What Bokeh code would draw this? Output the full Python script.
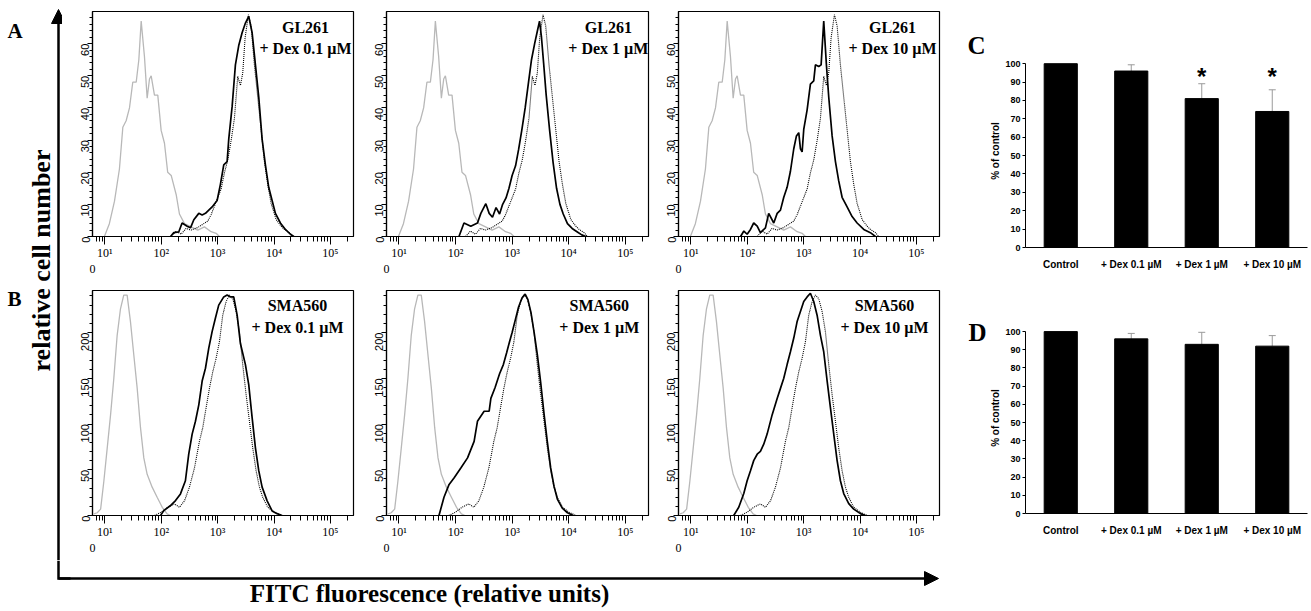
import math
from bokeh.plotting import figure
from bokeh.models import (Range1d, FixedTicker, Arrow, NormalHead, Whisker, LogAxis,
                          CustomJSTickFormatter, TeeHead, ColumnDataSource, FactorRange)
from bokeh.layouts import row, column
from bokeh.embed import file_html
from bokeh.resources import INLINE
from bokeh.core.properties import value

# ------------------------------------------------------------------ data
# Row A: GL261 histograms (fluorescence intensity vs cell count)
gl_iso_x = [9.8, 12, 14.8, 18.1, 20.8, 23.8, 27.3, 31.2, 35.9, 40, 44, 50.3, 56.2, 61.8, 66.2,
            75.7, 86.7, 99.5, 114, 130, 150, 184, 210, 258, 339, 444, 583, 766, 940, 1076]
gl_iso_y = [0, 4, 11, 21, 34, 36, 40, 48, 48, 55, 67, 56, 43, 49, 50,
            44, 44, 33, 29, 20, 19, 13, 7, 4, 3, 2, 3, 1.5, 1, 0]
gl_ctrl_x = [150, 183, 225, 276, 339, 444, 544, 668, 766, 940, 1153, 1318, 1510, 1733, 1986, 2272,
             2535, 2786, 3070, 3515, 3925, 4490, 5140, 5900, 6760, 7730, 8880, 10890, 13370, 15280,
             18750, 21430]
gl_ctrl_y = [0, 1.7, 0.7, 2.5, 2, 2.8, 3.8, 4.8, 6.8, 10.8, 14.8, 19.8, 23.8, 29.8, 36.8, 49.8,
             47, 50.8, 61.8, 69, 65.5, 53.4, 43.4, 33.3, 23.3, 16.3, 10.3, 5.3, 3.2, 2.2, 1.2, 0]
gl_dex01_x = [146, 167, 204, 234, 288, 330, 378, 463, 531, 608, 696, 798, 979, 1122, 1283, 1472,
              1574, 1806, 2066, 2366, 2716, 3110, 3560, 4090, 4680, 5360, 6150, 7030, 8050, 9250,
              10590, 12980, 15920, 19530, 22500]
gl_dex01_y = [0, 1.2, 1.4, 4.2, 3.2, 2.7, 5.2, 7.2, 6.7, 7.2, 8.2, 9.2, 11.2, 16.3, 22.3, 23.3,
              30.3, 40.4, 53.4, 59.4, 63.4, 66.4, 68.5, 63.4, 53.4, 43.4, 30.3, 22.3, 15.3, 11.2,
              7.2, 4.2, 2.2, 0.7, 0]
gl_dex1_x = [115, 141, 186, 244, 280, 343, 393, 450, 520, 600, 680, 780, 880, 1000, 1150, 1300,
             1480, 1700, 1950, 2200, 2500, 2800, 3050, 3300, 3600, 4000, 4600, 5300, 6100, 7000,
             8000, 9500, 11500, 14000, 17000, 20000]
gl_dex1_y = [0, 4.2, 3.2, 4.2, 7.2, 10.2, 7.2, 6, 9, 7, 10, 12, 15, 19, 22, 27,
             33, 40, 48, 55, 60, 64, 67, 62, 54, 44, 33, 23, 15, 10,
             7, 4, 2.5, 1.5, 0.5, 0]
gl_dex10_x = [76, 87, 99.5, 114, 130, 150, 171, 210, 240, 295, 339, 388, 444, 509, 583, 668, 745,
              819, 877, 940, 1004, 1153, 1318, 1510, 1617, 1852, 2042, 2272, 2535, 2786, 3200,
              3665, 4190, 4810, 5900, 7240, 8880, 11650, 15280, 18750]
gl_dex10_y = [0, 1.7, 0.7, 2.2, 4.2, 3.2, 1.2, 2.7, 7.2, 4.2, 7.2, 8.2, 12.2, 15.3, 20.3, 27.3,
              31.3, 32.3, 27.3, 26.3, 33.3, 39.4, 47.4, 48.4, 53.4, 52.9, 53.4, 67, 53.4, 43.4,
              31.3, 23.3, 17.3, 12.2, 9.2, 6.2, 4.2, 2.2, 1.2, 0]

# Row B: SMA560 histograms
sma_iso_x = [6.4, 7.3, 8.4, 9.6, 11, 12.6, 14.4, 16.5, 18.9, 21.6, 24.8, 28.4, 32.5, 37.4, 42.8,
             49, 56.2, 68.9, 84.5, 104, 127, 146]
sma_iso_y = [1.8, 3, 7, 38, 74, 110, 150, 197, 226, 241, 241, 212, 176, 139, 96,
             63, 45, 31, 20, 9, 1.8, 0]
sma_ctrl_x = [76, 99.5, 130, 171, 210, 258, 316, 388, 475, 544, 625, 715, 819, 940, 1076, 1231,
              1415, 1617, 1852, 2128, 2433, 2786, 3200, 3665, 4190, 4810, 5510, 6310, 7730, 10160,
              13370]
sma_ctrl_y = [0, 3.6, 9, 12.7, 9, 16, 31, 52, 81, 96, 118, 139, 157, 172, 190, 219,
              234, 241, 237, 223, 201, 165, 132, 103, 74, 49, 31, 20, 9, 3.6, 0]
sma_dex01_x = [97, 111, 146, 179, 219, 268, 307, 353, 404, 463, 531, 608, 696, 798, 914, 1045,
               1283, 1472, 1687, 1929, 2218, 2535, 3110, 3560, 4090, 4680, 5360, 6150, 7550, 9250,
               11350, 13900]
sma_dex01_y = [0, 5.4, 10.9, 16.3, 23.6, 38, 67, 89, 103, 121, 147, 161, 183, 201, 216, 230,
               239, 241, 239, 239, 219, 188, 165, 143, 107, 74, 49, 31, 16, 5, 2, 0]
sma_dex1_x = [51, 62.5, 77, 94, 124, 163, 213, 244, 320, 393, 421, 500, 600, 700, 800, 900, 1000,
              1150, 1300, 1500, 1700, 1900, 2150, 2450, 2800, 3200, 3650, 4200, 4800, 5500, 6300,
              7700, 9500, 12000]
sma_dex1_y = [0, 20, 34, 41, 52, 63, 81, 103, 114, 114, 128, 140, 155, 165, 178, 190, 200,
              215, 228, 238, 242, 236, 222, 200, 175, 145, 112, 80, 52, 32, 18, 8, 3, 0]
sma_dex10_x = [57.5, 70.6, 86.7, 99.5, 114, 130, 150, 171, 196, 225, 276, 339, 388, 444, 509, 583,
               668, 766, 877, 1004, 1153, 1318, 1510, 1733, 1986, 2272, 2612, 2985, 3420, 3925,
               4490, 5140, 6310, 7730, 10160, 12470]
sma_dex10_y = [0, 9, 24, 38, 49, 60, 67, 70, 78, 89, 110, 128, 139, 150, 165, 179,
               194, 212, 223, 234, 239, 243, 234, 219, 197, 179, 147, 118, 89, 60,
               38, 24, 13, 7, 2, 0]

x_ticks = [10, 100, 1000, 10000, 100000]
x_tick_labels = ["10¹", "10²", "10³", "10⁴", "10⁵"]
gl_yticks = [0, 10, 20, 30, 40, 50, 60]
sma_yticks = [0, 50, 100, 150, 200]

panel_titles_a = [["GL261", "+ Dex 0.1 µM"], ["GL261", "+ Dex 1 µM"], ["GL261", "+ Dex 10 µM"]]
panel_titles_b = [["SMA560", "+ Dex 0.1 µM"], ["SMA560", "+ Dex 1 µM"], ["SMA560", "+ Dex 10 µM"]]

# Bar charts (% of control)
conditions = ["Control", "+ Dex 0.1 µM", "+ Dex 1 µM", "+ Dex 10 µM"]
gl_mean = [100, 96, 81, 74]
gl_err = [0, 3.4, 8.1, 11.8]
gl_sig = ["", "", "*", "*"]
sma_mean = [100, 96, 93, 92]
sma_err = [0, 3, 6.6, 5.8]
sma_sig = ["", "", "", ""]
bar_yticks = [0, 10, 20, 30, 40, 50, 60, 70, 80, 90, 100]

# ------------------------------------------------------------------ style
SERIF = "Liberation Serif"
SANS = "Liberation Sans"
NARROW = "Liberation Sans Narrow"
LOG0, LOG1 = 0.78, 5.41
X0, X1 = 10 ** LOG0, 10 ** LOG1
GRAY_LINE = "#b8b8b8"
ERR_GRAY = "#9a9a9a"

minor_x = [m * 10 ** d for d in range(0, 6) for m in range(2, 10) if X0 < m * 10 ** d < X1]


def hist_panel(w, h, borders, ymax, yt, ym, iso, ctrl, trt, lines, lab_off, lab_y):
    l, r, t, b = borders
    p = figure(width=w, height=h, x_axis_type="log", x_range=Range1d(X0, X1),
               y_range=Range1d(0, ymax), output_backend="svg", toolbar_location=None,
               min_border_left=l, min_border_right=r, min_border_top=t, min_border_bottom=b)
    p.grid.visible = False
    p.outline_line_color = "black"
    p.outline_line_width = 1.2
    p.outline_line_alpha = 1.0
    xa = p.xaxis[0]
    xa.ticker = FixedTicker(ticks=x_ticks, minor_ticks=minor_x)
    xa.major_label_overrides = dict(zip(x_ticks, x_tick_labels))
    xa.major_tick_out = 8
    xa.major_tick_in = 0
    xa.minor_tick_out = 5
    xa.minor_tick_in = 0
    xa.major_label_standoff = 1
    ya = p.yaxis[0]
    ya.ticker = FixedTicker(ticks=yt, minor_ticks=ym)
    ya.major_label_orientation = math.pi / 2
    ya.major_tick_out = 5
    ya.major_tick_in = 0
    ya.minor_tick_out = 3
    ya.minor_tick_in = 0
    ya.major_label_standoff = 2
    for ax in (xa, ya):
        ax.axis_line_color = "black"
        ax.axis_line_width = 1.2
        ax.major_tick_line_color = "black"
        ax.minor_tick_line_color = "black"
        ax.major_label_text_color = "black"
    xa.major_label_text_font = NARROW
    xa.major_label_text_font_size = "12px"
    ya.major_label_text_font = SANS
    ya.major_label_text_font_size = "11px"
    # lone "0" label under the left end of the scale
    zero_axis = LogAxis(ticker=FixedTicker(ticks=[X0]),
                        formatter=CustomJSTickFormatter(code="return '0'"),
                        axis_line_color=None, major_tick_line_color=None,
                        minor_tick_line_color=None, major_label_standoff=-4,
                        major_label_text_font=NARROW, major_label_text_font_size="12px",
                        major_label_text_color="black")
    p.add_layout(zero_axis, "below")
    p.line(iso[0], iso[1], line_color=GRAY_LINE, line_width=1.3)
    p.line(ctrl[0], ctrl[1], line_color="black", line_width=1.1, line_dash="1 1")
    p.line(trt[0], trt[1], line_color="black", line_width=1.7)
    lx = 10 ** (LOG0 + lab_off * (LOG1 - LOG0) / 261.0)
    p.text(x=[lx, lx], y=lab_y, text=lines, text_align="center", text_baseline="middle",
           text_font=value(SERIF), text_font_style="bold", text_font_size="16px",
           text_color="black")
    return p


gl_minor = [v for v in range(2, 70, 2) if v % 10]
sma_minor = [v for v in range(10, 246, 10) if v % 50]

col_w = [304, 292, 302]
col_lr = [(30, 13), (20, 10), (20, 21)]
row_a = []
row_b = []
gl_trt = [(gl_dex01_x, gl_dex01_y), (gl_dex1_x, gl_dex1_y), (gl_dex10_x, gl_dex10_y)]
sma_trt = [(sma_dex01_x, sma_dex01_y), (sma_dex1_x, sma_dex1_y), (sma_dex10_x, sma_dex10_y)]
off_a = [213, 221, 214]
off_b = [205, 212, 206]
for i in range(3):
    l, r = col_lr[i]
    row_a.append(hist_panel(col_w[i], 275, (l, r, 11, 31), 70, gl_yticks, gl_minor,
                            (gl_iso_x, gl_iso_y), (gl_ctrl_x, gl_ctrl_y), gl_trt[i],
                            panel_titles_a[i], off_a[i], [65, 58.4]))
    row_b.append(hist_panel(col_w[i], 285, (l, r, 15, 45), 246, sma_yticks, sma_minor,
                            (sma_iso_x, sma_iso_y), (sma_ctrl_x, sma_ctrl_y), sma_trt[i],
                            panel_titles_b[i], off_b[i], [229.5, 205.5]))


def bar_panel(h, top, bottom, means, errs, sig):
    p = figure(width=321, height=h, x_range=FactorRange(factors=conditions),
               y_range=Range1d(0, 105), output_backend="svg", toolbar_location=None,
               min_border_left=34, min_border_right=1, min_border_top=top,
               min_border_bottom=bottom)
    p.grid.visible = False
    p.outline_line_color = None
    p.vbar(x=conditions, top=means, width=0.47, fill_color="black", line_color="black")
    keep = [i for i, e in enumerate(errs) if e > 0]
    src = ColumnDataSource(dict(x=[conditions[i] for i in keep],
                                lower=[means[i] for i in keep],
                                upper=[means[i] + errs[i] for i in keep]))
    p.add_layout(Whisker(source=src, base="x", lower="lower", upper="upper",
                         line_color=ERR_GRAY, line_width=1,
                         upper_head=TeeHead(size=7, line_color=ERR_GRAY, line_width=1),
                         lower_head=None))
    s_idx = [i for i, s in enumerate(sig) if s]
    if s_idx:
        p.text(x=[conditions[i] for i in s_idx], y=[93] * len(s_idx),
               text=[sig[i] for i in s_idx], text_align="center", text_baseline="middle",
               text_font=value(SANS), text_font_style="bold", text_font_size="24px",
               text_color="black")
    ya = p.yaxis[0]
    ya.ticker = FixedTicker(ticks=bar_yticks)
    ya.bounds = (0, 100)
    ya.major_tick_out = 3
    ya.major_tick_in = 0
    ya.minor_tick_line_color = None
    ya.major_label_standoff = 2
    ya.axis_label = "% of control"
    ya.axis_label_text_font = SANS
    ya.axis_label_text_font_style = "bold"
    ya.axis_label_text_font_size = "10px"
    ya.axis_label_standoff = 1
    xa = p.xaxis[0]
    xa.major_tick_line_color = None
    xa.minor_tick_line_color = None
    xa.major_label_standoff = 5
    for ax in (xa, ya):
        ax.axis_line_color = "black"
        ax.axis_line_width = 1
        ax.major_label_text_font = SANS
        ax.major_label_text_font_style = "bold"
        ax.major_label_text_color = "black"
        ax.axis_label_text_color = "black"
    ya.major_label_text_font_size = "9px"
    xa.major_label_text_font_size = "10px"
    return p


bar_c = bar_panel(285, 54, 38, gl_mean, gl_err, gl_sig)
bar_d = bar_panel(275, 37, 47, sma_mean, sma_err, sma_sig)


def blank(w, h):
    p = figure(width=w, height=h, x_range=Range1d(0, w), y_range=Range1d(0, h),
               x_axis_type=None, y_axis_type=None, min_border=0, output_backend="svg",
               toolbar_location=None)
    p.outline_line_color = None
    return p


# panel letters C / D
letters = blank(27, 560)
letters.text(x=[16, 17], y=[515, 228], text=["C", "D"], text_align="center",
             text_baseline="middle", text_font=value(SERIF), text_font_style="bold",
             text_font_size="25px", text_color="black")

# left strip: vertical arrow, A / B, y title
left = blank(62, 560)
left.add_layout(Arrow(x_start=58, y_start=0, x_end=58, y_end=551, line_width=2.5,
                      line_color="black",
                      end=NormalHead(size=14, fill_color="black", line_color="black",
                                     line_width=1)))
left.text(x=[7, 7], y=[530, 262], text=["A", "B"], text_align="left", text_baseline="middle",
          text_font=value(SERIF), text_font_style="bold", text_font_size="21px",
          text_color="black")
left.text(x=[41], y=[300], text=["relative cell number"], angle=math.pi / 2,
          text_align="center", text_baseline="middle", text_font=value(SERIF),
          text_font_style="bold", text_font_size="26px", text_color="black")

# bottom strip: corner, horizontal arrow, x title
bottom = blank(1308, 50)
bottom.line([58, 58, 70], [50, 32, 32], line_width=2.5, line_color="black", line_join="miter")
bottom.add_layout(Arrow(x_start=58, y_start=32, x_end=938, y_end=32, line_width=2.5,
                        line_color="black",
                        end=NormalHead(size=14, fill_color="black", line_color="black",
                                       line_width=1)))
bottom.text(x=[429], y=[17], text=["FITC fluorescence (relative units)"], text_align="center",
            text_baseline="middle", text_font=value(SERIF), text_font_style="bold",
            text_font_size="25px", text_color="black")

hist_grid = column(row(*row_a), row(*row_b))
bars = column(bar_c, bar_d)
top_row = row(left, hist_grid, letters, bars)
layout = column(top_row, bottom)

open("out.html", "w").write(file_html(layout, INLINE))
